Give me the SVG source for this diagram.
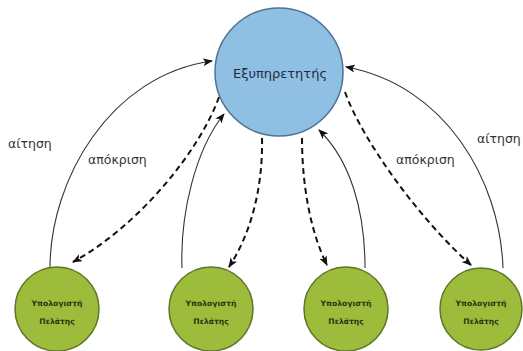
<svg xmlns="http://www.w3.org/2000/svg" width="523" height="351" viewBox="0 0 523 351">
  <style>
    .server { fill: #8fbfe2; stroke: #4d7394; stroke-width: 1.5; }
    .client { fill: #9dbc3b; stroke: #5e7628; stroke-width: 1.5; }
    .server-text { font-family: "DejaVu Sans", "Liberation Sans", sans-serif; font-size: 13px; fill: #1e2b40; text-anchor: middle; }
    .client-text { font-family: "DejaVu Sans", "Liberation Sans", sans-serif; font-size: 7.6px; font-weight: bold; fill: #2a3510; text-anchor: middle; }
    .label { font-family: "DejaVu Sans", "Liberation Sans", sans-serif; font-size: 12.5px; fill: #333; }
    .req { fill: none; stroke: #333; stroke-width: 1.1; marker-end: url(#arrow); }
    .resp { fill: none; stroke: #111; stroke-width: 2; stroke-dasharray: 6 4; marker-end: url(#arrow); }
  </style>
  <defs>
    <marker id="arrow" viewBox="0 0 10 8" refX="9" refY="4" markerWidth="10" markerHeight="8" markerUnits="userSpaceOnUse" orient="auto">
      <path d="M0,0 L10,4 L0,8 L2.5,4 Z" fill="#111"/>
    </marker>
  </defs>
  <rect width="523" height="351" fill="#ffffff"/>

  <g id="connectors">
    <path class="req" d="M50,268 C50,180 110,75 212,61"/>
    <path class="resp" d="M219,97 C200,150 140,225 73,262"/>
    <path class="req" d="M182,268 C180,215 195,150 224,114"/>
    <path class="resp" d="M262,138 C263,190 250,235 229,267"/>
    <path class="resp" d="M302,138 C302,190 312,235 327,265"/>
    <path class="req" d="M365,268 C365,210 350,160 319,130"/>
    <path class="resp" d="M345,92 C362,140 420,220 471,265"/>
    <path class="req" d="M503,268 C500,180 445,85 346,67"/>
  </g>

  <g id="labels">
    <text class="label" x="8" y="148">αίτηση</text>
    <text class="label" x="88" y="164">απόκριση</text>
    <text class="label" x="396" y="164">απόκριση</text>
    <text class="label" x="477" y="143">αίτηση</text>
  </g>

  <g id="server">
    <circle class="server" cx="279" cy="72" r="64"/>
    <text class="server-text" x="280" y="78">Εξυπηρετητής</text>
  </g>

  <g id="client-1">
    <circle class="client" cx="57" cy="309" r="42"/>
    <text class="client-text" x="57" y="306">Υπολογιστή</text>
    <text class="client-text" x="57" y="324">Πελάτης</text>
  </g>
  <g id="client-2">
    <circle class="client" cx="211" cy="309" r="42"/>
    <text class="client-text" x="211" y="306">Υπολογιστή</text>
    <text class="client-text" x="211" y="324">Πελάτης</text>
  </g>
  <g id="client-3">
    <circle class="client" cx="346" cy="309" r="42"/>
    <text class="client-text" x="346" y="306">Υπολογιστή</text>
    <text class="client-text" x="346" y="324">Πελάτης</text>
  </g>
  <g id="client-4">
    <circle class="client" cx="481" cy="309" r="41"/>
    <text class="client-text" x="481" y="306">Υπολογιστή</text>
    <text class="client-text" x="481" y="324">Πελάτης</text>
  </g>
</svg>
